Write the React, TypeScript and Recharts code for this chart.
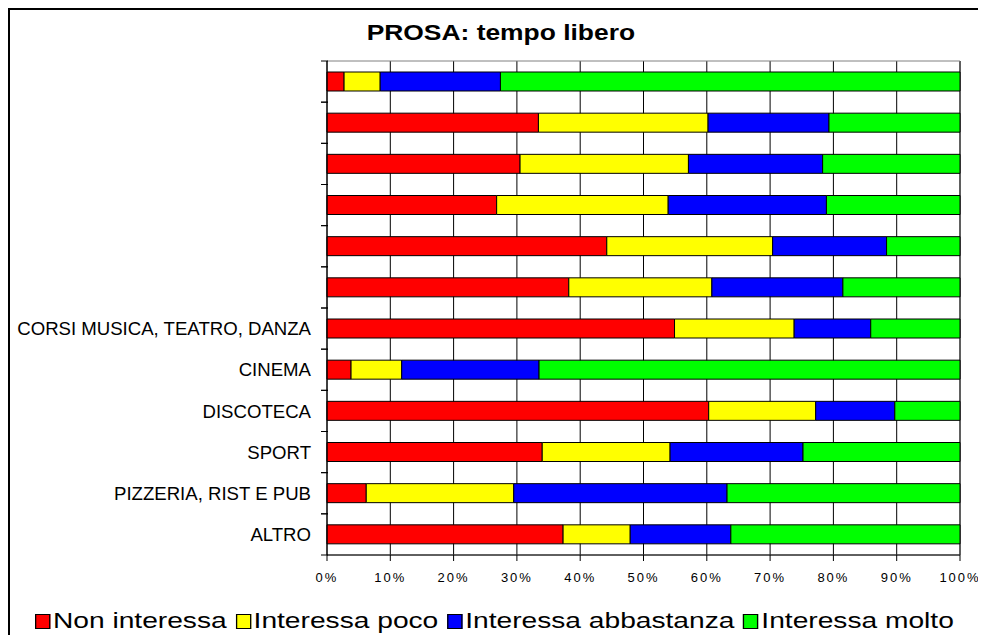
import { BarChart, Bar, XAxis, YAxis, CartesianGrid, ReferenceArea } from "recharts";

const categories = [
  "",
  "",
  "",
  "",
  "",
  "",
  "CORSI MUSICA, TEATRO, DANZA",
  "CINEMA",
  "DISCOTECA",
  "SPORT",
  "PIZZERIA, RIST E PUB",
  "ALTRO",
];

// percentuali, dall'alto verso il basso
const nonInteressa = [2.7, 33.4, 30.5, 26.8, 44.2, 38.2, 54.9, 3.8, 60.3, 34.0, 6.2, 37.3];
const interessaPoco = [5.7, 26.8, 26.6, 27.1, 26.2, 22.6, 18.9, 8.0, 16.9, 20.2, 23.3, 10.6];
const interessaAbbastanza = [19.0, 19.1, 21.2, 25.0, 18.0, 20.7, 12.1, 21.7, 12.5, 21.0, 33.7, 15.9];
const interessaMolto = [72.6, 20.7, 21.7, 21.1, 11.6, 18.5, 14.1, 66.5, 10.3, 24.8, 36.8, 36.2];

const xTicks = [0, 10, 20, 30, 40, 50, 60, 70, 80, 90, 100];

const series = [
  { key: "non", name: "Non interessa", color: "#ff0000" },
  { key: "poco", name: "Interessa poco", color: "#ffff00" },
  { key: "abb", name: "Interessa abbastanza", color: "#0000ff" },
  { key: "molto", name: "Interessa molto", color: "#00ff00" },
];

const data = categories.map((label, i) => ({
  id: `c${i}`,
  label,
  non: nonInteressa[i],
  poco: interessaPoco[i],
  abb: interessaAbbastanza[i],
  molto: interessaMolto[i],
}));

const FONT = "'Liberation Sans', Arial, sans-serif";

// etichetta categoria + tacche sui confini delle fasce
function CategoryTick(props: any) {
  const { x, y, payload, index } = props;
  const half = payload.offset || 0;
  const label = data[index] ? data[index].label : "";
  return (
    <g>
      <line x1={x + 10} x2={x + 17} y1={y - half} y2={y - half} stroke="#000" />
      <line x1={x + 10} x2={x + 17} y1={y + half} y2={y + half} stroke="#000" />
      <text x={x} y={y} dy="0.355em" textAnchor="end" fontSize={18.6} fontFamily={FONT} fill="#000">
        {label}
      </text>
    </g>
  );
}

export default function App() {
  return (
    <div style={{ position: "relative", width: 978, height: 627, overflow: "hidden", fontFamily: FONT }}>
      <div
        style={{
          position: "absolute",
          left: 0,
          top: 0,
          width: 978,
          height: 627,
          borderTop: "2px solid #000",
          borderLeft: "2px solid #000",
          boxSizing: "border-box",
        }}
      />
      <div
        style={{
          position: "absolute",
          left: 0,
          width: 986,
          top: 12,
          textAlign: "center",
          fontWeight: "bold",
          fontSize: 22,
          color: "#000",
        }}
      >
        <span style={{ display: "inline-block", transform: "scaleX(1.2)" }}>PROSA: tempo libero</span>
      </div>

      <BarChart
        width={978}
        height={635}
        data={data}
        layout="vertical"
        barSize={19}
        margin={{ top: 53, right: 26, bottom: 58, left: 0 }}
      >
        <CartesianGrid horizontal={false} stroke="#000" />
        <XAxis
          type="number"
          domain={[0, 100]}
          ticks={xTicks}
          tickFormatter={(v) => `${v}%`}
          interval={0}
          height={30}
          tickSize={6}
          tickMargin={12}
          stroke="#000"
          tick={{ fontSize: 13, fill: "#000", fontFamily: FONT, letterSpacing: 2 }}
        />
        <YAxis
          type="category"
          dataKey="id"
          width={319}
          interval={0}
          tickSize={6}
          tickMargin={10}
          tickLine={false}
          stroke="#000"
          tick={<CategoryTick />}
        />
        {series.map((s) => (
          <Bar
            key={s.key}
            dataKey={s.key}
            name={s.name}
            stackId="a"
            fill={s.color}
            stroke="#000"
            strokeWidth={1}
            isAnimationActive={false}
          />
        ))}
        <ReferenceArea x1={0} x2={100} fill="none" stroke="#808080" strokeWidth={1} ifOverflow="visible" />
      </BarChart>

      <div
        style={{
          position: "absolute",
          left: 27,
          top: 600,
          display: "flex",
          alignItems: "center",
          fontSize: 22,
          color: "#000",
          whiteSpace: "nowrap",
          transform: "scaleX(1.28)",
          transformOrigin: "left center",
        }}
      >
        {series.map((s) => (
          <span key={s.key} style={{ display: "inline-flex", alignItems: "center", marginRight: 7 }}>
            <span
              style={{
                display: "inline-block",
                width: 10,
                height: 13,
                background: s.color,
                border: "1px solid #000",
                marginRight: 2,
              }}
            />
            {s.name}
          </span>
        ))}
      </div>
    </div>
  );
}
